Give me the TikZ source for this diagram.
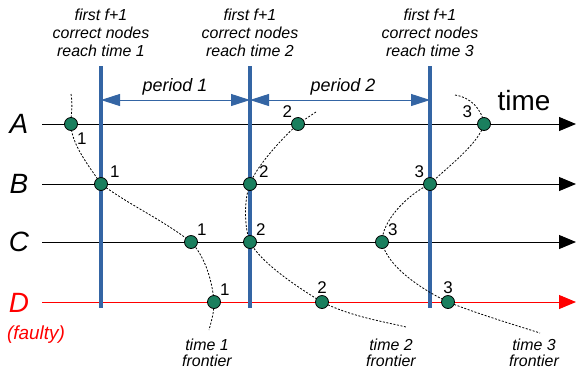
\documentclass[tikz,border=0pt]{standalone}
\usepackage{fontspec}
\setmainfont{Liberation Sans}
\usetikzlibrary{arrows.meta,backgrounds}

\definecolor{barblue}{HTML}{3465A4}
\definecolor{dotgreen}{HTML}{1A7F5E}

\begin{document}
\begin{tikzpicture}[
  x=1bp,y=-1bp,
  dot/.style={circle,draw=black,line width=0.8bp,fill=dotgreen,minimum size=13bp,inner sep=0pt},
  num/.style={font=\fontsize{17}{17}\selectfont,inner sep=1bp},
  lane/.style={font=\fontsize{28}{28}\selectfont\itshape},
  axis/.style={line width=1bp,-{Triangle[length=17bp,width=14bp]}},
  bar/.style={draw=barblue,line width=3.5bp},
  period/.style={barblue,line width=1bp,{Triangle[length=19bp,width=12bp]}-{Triangle[length=19bp,width=12bp]}},
  head/.style={font=\fontsize{16}{18}\selectfont\itshape,align=center},
  front/.style={font=\fontsize{16}{16}\selectfont\itshape,align=center},
  curve/.style={dash pattern=on 2bp off 1.6bp,line width=0.8bp}
]
\useasboundingbox (0,0) rectangle (576,372);

% lanes
\node[lane] (la) at (19,124) {A};
\node[lane] (lb) at (19,184) {B};
\node[lane] (lc) at (19,242) {C};
\node[lane,red] (ld) at (19,303) {D};
\node[red,font=\fontsize{19}{19}\selectfont\itshape] (faulty) at (36,335) {(faulty)};
\node[font=\fontsize{28}{28}\selectfont] (time) at (524,101) {time};

\coordinate (a0) at (42,124); \coordinate (a9) at (576,124);
\coordinate (b0) at (42,184); \coordinate (b9) at (576,184);
\coordinate (c0) at (42,242); \coordinate (c9) at (576,242);
\coordinate (d0) at (42,302); \coordinate (d9) at (576,302);

% headings over the three bars
\node[head] (h1) at (101,33) {first f+1\\correct nodes\\reach time 1};
\node[head] (h2) at (250,33) {first f+1\\correct nodes\\reach time 2};
\node[head] (h3) at (430,33) {first f+1\\correct nodes\\reach time 3};

\coordinate (v1t) at (101,66); \coordinate (v1b) at (101,308);
\coordinate (v2t) at (250,66); \coordinate (v2b) at (250,308);
\coordinate (v3t) at (430,66); \coordinate (v3b) at (430,308);

\coordinate (p0) at (101,100); \coordinate (p1) at (250,100); \coordinate (p2) at (430,100);
\node[font=\fontsize{18}{18}\selectfont\itshape] (per1) at (175,87) {period 1};
\node[font=\fontsize{18}{18}\selectfont\itshape] (per2) at (343,87) {period 2};

% events
\node[dot,label={[num,yshift=-3bp]below right:1}] (a1) at (71,124) {};
\node[dot,label={[num,xshift=3bp]above right:1}] (b1) at (101,184) {};
\node[dot,label={[num]above right:1}] (c1) at (191,242) {};
\node[dot,label={[num]above right:1}] (d1) at (214,302) {};
\node[dot,label={[num]above left:2}] (a2) at (298,124) {};
\node[dot,label={[num,xshift=3bp]above right:2}] (b2) at (250,184) {};
\node[dot,label={[num]above right:2}] (c2) at (250,242) {};
\node[dot,label={[num]above:2}] (d2) at (322,302) {};
\node[dot,label={[num,xshift=-6bp]above left:3}] (a3) at (484,124) {};
\node[dot,label={[num]above left:3}] (b3) at (430,184) {};
\node[dot,label={[num]above right:3}] (c3) at (382,242) {};
\node[dot,label={[num]above:3}] (d3) at (448,302) {};

% frontiers
\coordinate (t1s) at (71,94);  \coordinate (t1e) at (209,330);
\coordinate (t2s) at (316,112); \coordinate (t2e) at (406,327);
\coordinate (t3s) at (455,95); \coordinate (t3e) at (540,333);
\node[front] (f1) at (207,353) {time 1\\frontier};
\node[front] (f2) at (391,353) {time 2\\frontier};
\node[front] (f3) at (534,353) {time 3\\frontier};

\begin{scope}[on background layer]
  \draw[axis] (a0) -- (a9);
  \draw[axis] (b0) -- (b9);
  \draw[axis] (c0) -- (c9);
  \draw[axis,red] (d0) -- (d9);
  \draw[bar] (v1t) -- (v1b);
  \draw[bar] (v2t) -- (v2b);
  \draw[bar] (v3t) -- (v3b);
  \draw[period] (p0) -- (p1);
  \draw[period] (p1) -- (p2);
  \draw[curve] (t1s) .. controls +(2,12) and +(0,-10) .. (a1.center)
    .. controls +(0,20) and +(-12,-18) .. (b1.center)
    .. controls +(30,22) and +(-28,-22) .. (c1.center)
    .. controls +(12,12) and +(-2,-25) .. (d1.center)
    .. controls +(0,12) and +(2,-8) .. (t1e);
  \draw[curve] (t2s) .. controls +(-6,4) and +(6,-4) .. (a2.center)
    .. controls +(-20,18) and +(5,-15) .. (b2.center)
    .. controls +(-6,15) and +(-6,-15) .. (c2.center)
    .. controls +(10,20) and +(-25,-15) .. (d2.center)
    .. controls +(30,15) and +(-20,-5) .. (t2e);
  \draw[curve] (t3s) .. controls +(15,2) and +(-2,-15) .. (a3.center)
    .. controls +(-5,20) and +(15,-15) .. (b3.center)
    .. controls +(-25,12) and +(0,-20) .. (c3.center)
    .. controls +(5,25) and +(-25,-12) .. (d3.center)
    .. controls +(30,12) and +(-25,-8) .. (t3e);
\end{scope}
\end{tikzpicture}
\end{document}
